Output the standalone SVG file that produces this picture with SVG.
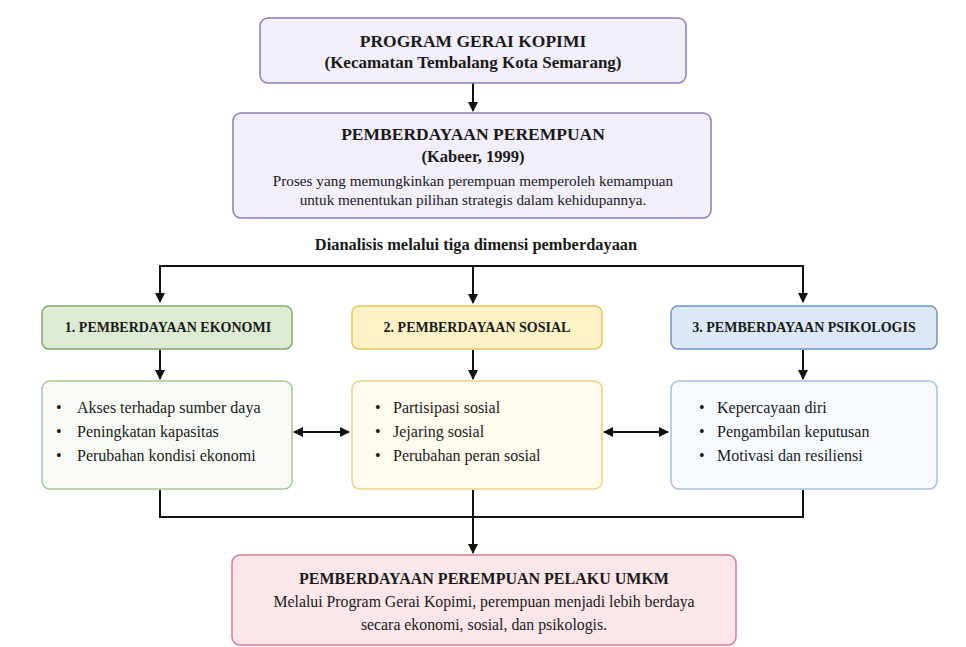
<svg xmlns="http://www.w3.org/2000/svg" width="966" height="647" viewBox="0 0 966 647">
<defs>
<marker id="ah" viewBox="0 0 10 10" refX="9" refY="5" markerWidth="10" markerHeight="10" markerUnits="userSpaceOnUse" orient="auto-start-reverse">
<path d="M0,0 L10,5 L0,10 z" fill="#111"/>
</marker>
<style>
text{font-family:"Liberation Serif","DejaVu Serif",serif;fill:#1a1a1a}
.t{font-size:17.5px;font-weight:bold;text-anchor:middle}
.s{font-size:15.2px;text-anchor:middle}
.h{font-size:14px;font-weight:bold;text-anchor:middle}
.b{font-size:16px}
.purple{fill:#f2eefa;stroke:#8c7bbf;stroke-width:1.5}
.gh{fill:#dcebd2;stroke:#84a96c;stroke-width:1.5}
.gc{fill:#f8fbf5;stroke:#a9c696;stroke-width:1.5}
.yh{fill:#fdf1c6;stroke:#e6c456;stroke-width:1.5}
.yc{fill:#fffbee;stroke:#eed281;stroke-width:1.5}
.bh{fill:#dce8f7;stroke:#6f93c8;stroke-width:1.5}
.bc{fill:#f7faff;stroke:#a7c0e3;stroke-width:1.5}
.pk{fill:#fbe6e9;stroke:#d97b8b;stroke-width:1.5}
.ln{fill:none;stroke:#111;stroke-width:2}
</style>
</defs>
<g id="connectors">
<line class="ln" x1="473" y1="83" x2="473" y2="111" marker-end="url(#ah)"/>
<polyline class="ln" points="160,302 160,266 803,266 803,302" marker-start="url(#ah)" marker-end="url(#ah)"/>
<line class="ln" x1="473" y1="266" x2="473" y2="303" marker-end="url(#ah)"/>
<line class="ln" x1="160" y1="350" x2="160" y2="379" marker-end="url(#ah)"/>
<line class="ln" x1="473" y1="350" x2="473" y2="379" marker-end="url(#ah)"/>
<line class="ln" x1="803" y1="350" x2="803" y2="379" marker-end="url(#ah)"/>
<line class="ln" x1="294" y1="432" x2="349" y2="432" marker-start="url(#ah)" marker-end="url(#ah)"/>
<line class="ln" x1="604" y1="432" x2="668" y2="432" marker-start="url(#ah)" marker-end="url(#ah)"/>
<polyline class="ln" points="160,490 160,517 803,517 803,490"/>
<line class="ln" x1="473" y1="490" x2="473" y2="553" marker-end="url(#ah)"/>
</g>
<g id="program">
<rect class="purple" x="260" y="18" width="426" height="65" rx="8"/>
<text class="t" x="473" y="47">PROGRAM GERAI KOPIMI</text>
<text class="t" x="473" y="68" style="font-size:17px">(Kecamatan Tembalang Kota Semarang)</text>
</g>
<g id="pemberdayaan">
<rect class="purple" x="233" y="113" width="478" height="105" rx="8"/>
<text class="t" x="473" y="140">PEMBERDAYAAN PEREMPUAN</text>
<text class="t" x="473" y="162" style="font-size:16.5px">(Kabeer, 1999)</text>
<text class="s" x="473" y="186">Proses yang memungkinkan perempuan memperoleh kemampuan</text>
<text class="s" x="473" y="205">untuk menentukan pilihan strategis dalam kehidupannya.</text>
</g>
<g id="dianalisis">
<text class="h" x="476" y="250" style="font-size:16.4px">Dianalisis melalui tiga dimensi pemberdayaan</text>
</g>
<g id="ekonomi">
<rect class="gh" x="42" y="306" width="250" height="43" rx="7"/>
<text class="h" x="168" y="332">1. PEMBERDAYAAN EKONOMI</text>
</g>
<g id="ekonomi-items">
<rect class="gc" x="42" y="381" width="250" height="108" rx="8"/>
<text class="b" x="56" y="413">•</text><text class="b" x="77" y="413">Akses terhadap sumber daya</text>
<text class="b" x="56" y="437">•</text><text class="b" x="77" y="437">Peningkatan kapasitas</text>
<text class="b" x="56" y="461">•</text><text class="b" x="77" y="461">Perubahan kondisi ekonomi</text>
</g>
<g id="sosial">
<rect class="yh" x="352" y="306" width="250" height="43" rx="7"/>
<text class="h" x="477" y="332">2. PEMBERDAYAAN SOSIAL</text>
</g>
<g id="sosial-items">
<rect class="yc" x="352" y="381" width="250" height="108" rx="8"/>
<text class="b" x="375" y="413">•</text><text class="b" x="393" y="413">Partisipasi sosial</text>
<text class="b" x="375" y="437">•</text><text class="b" x="393" y="437">Jejaring sosial</text>
<text class="b" x="375" y="461">•</text><text class="b" x="393" y="461">Perubahan peran sosial</text>
</g>
<g id="psikologis">
<rect class="bh" x="671" y="306" width="266" height="43" rx="7"/>
<text class="h" x="804" y="332">3. PEMBERDAYAAN PSIKOLOGIS</text>
</g>
<g id="psikologis-items">
<rect class="bc" x="671" y="381" width="266" height="108" rx="8"/>
<text class="b" x="699" y="413">•</text><text class="b" x="717" y="413">Kepercayaan diri</text>
<text class="b" x="699" y="437">•</text><text class="b" x="717" y="437">Pengambilan keputusan</text>
<text class="b" x="699" y="461">•</text><text class="b" x="717" y="461">Motivasi dan resiliensi</text>
</g>
<g id="hasil">
<rect class="pk" x="232" y="555" width="504" height="90" rx="8"/>
<text class="t" x="484" y="584" style="font-size:16px">PEMBERDAYAAN PEREMPUAN PELAKU UMKM</text>
<text class="s" x="484" y="607" style="font-size:15.8px">Melalui Program Gerai Kopimi, perempuan menjadi lebih berdaya</text>
<text class="s" x="484" y="630" style="font-size:15.8px">secara ekonomi, sosial, dan psikologis.</text>
</g>
</svg>
